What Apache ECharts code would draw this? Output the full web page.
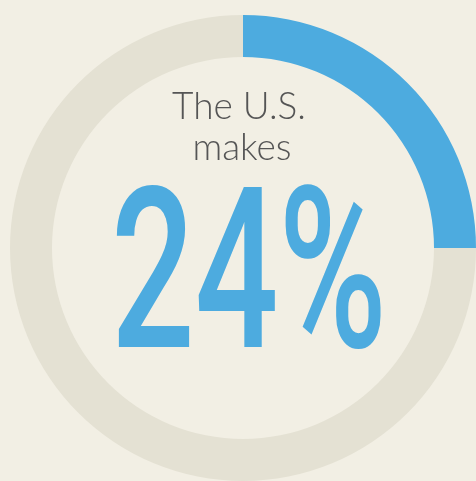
<!DOCTYPE html>
<html>
<head>
<meta charset="utf-8">
<script src="https://cdn.jsdelivr.net/npm/echarts@6/dist/echarts.min.js"></script>
<style>
html,body{margin:0;padding:0;background:#f2efe4;}
#chart{width:476px;height:481px;}
</style>
</head>
<body>
<div id="chart"></div>
<script>
// Data
const categories = ['U.S.', 'Rest of world'];
const arcValues = [25, 75];
const headlineLines = ['The U.S.', 'makes'];
const headlineValue = '24%';

const chart = echarts.init(document.getElementById('chart'));
chart.setOption({
  backgroundColor: '#f2efe4',
  animation: false,
  series: [{
    type: 'pie',
    center: [243, 248],
    radius: [191, 233],
    startAngle: 90,
    clockwise: true,
    silent: true,
    label: { show: false },
    labelLine: { show: false },
    itemStyle: { borderWidth: 0 },
    emphasis: { disabled: true },
    data: categories.map((c, i) => ({
      name: c,
      value: arcValues[i],
      itemStyle: { color: i === 0 ? '#4dabdf' : '#e4e1d3' }
    }))
  }],
  graphic: [
    {
      type: 'text',
      x: 239, y: 107,
      style: {
        text: headlineLines[0],
        fill: '#555555',
        font: '300 37px Lato',
        align: 'center',
        verticalAlign: 'middle'
      }
    },
    {
      type: 'text',
      x: 242, y: 148,
      style: {
        text: headlineLines[1],
        fill: '#555555',
        font: '300 37px Lato',
        align: 'center',
        verticalAlign: 'middle'
      }
    },
    {
      type: 'text',
      x: 249, y: 291,
      scaleX: 0.635,
      scaleY: 0.97,
      style: {
        text: headlineValue,
        fill: '#4dabdf',
        font: '500 232px Roboto',
        align: 'center',
        verticalAlign: 'middle'
      }
    }
  ]
});
</script>
</body>
</html>
